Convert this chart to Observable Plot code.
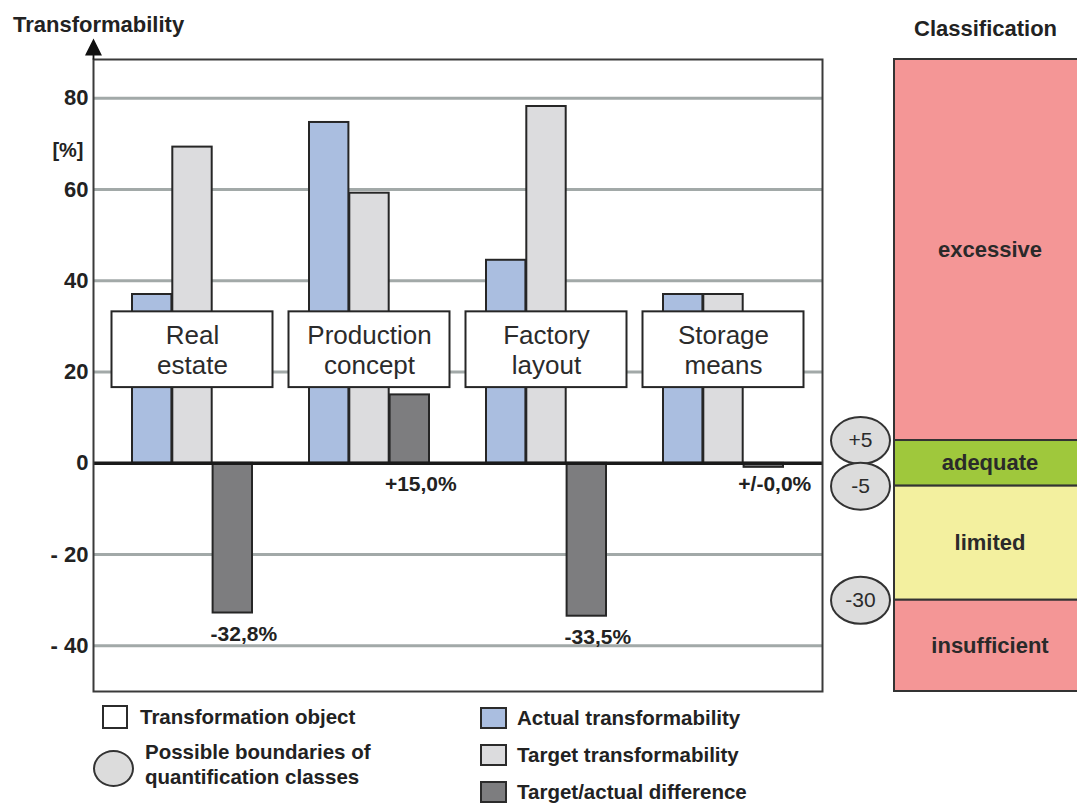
<!DOCTYPE html>
<html>
<head>
<meta charset="utf-8">
<script src="https://cdn.jsdelivr.net/npm/d3@7"></script>
<script src="https://cdn.jsdelivr.net/npm/@observablehq/plot@0.6"></script>
<style>
  body { margin: 0; background: #fff; font-family: "Liberation Sans", Arial, sans-serif; color: #222; }
  #chart { position: relative; width: 1077px; height: 803px; overflow: hidden; }
  #chart svg { position: absolute; top: 0; overflow: visible; }
  .lbl { position: absolute; font-weight: bold; white-space: nowrap; color: #222; }
  .sw { position: absolute; box-sizing: border-box; border: 2px solid #2b2b2b; }
</style>
</head>
<body>
<div id="chart"></div>
<script>
// Transformation objects and their transformability values [%]
const categories = ["Real estate", "Production concept", "Factory layout", "Storage means"];
const actual = [37.0, 74.7, 44.5, 37.0];
const target = [69.3, 59.2, 78.2, 37.0];
const difference = [-32.8, 15.0, -33.5, 0.0];

// Vertical axis
const yTicks = [80, 60, 40, 20, 0, -20, -40];
const yDomain = [-50, 88.5];

// Quantification classes and the boundaries between them
const classNames = ["excessive", "adequate", "limited", "insufficient"];
const classColors = ["#f49696", "#9fc83c", "#f3f09f", "#f49696"];
const classBounds = [5, -5, -30];
const boundaryLabels = ["+5", "-5", "-30"];

// Series legend
const seriesNames = ["Actual transformability", "Target transformability", "Target/actual difference"];
const seriesColors = ["#aabee0", "#dcdcde", "#7d7d7f"];

const rows = categories.map((category, i) => ({
  category, actual: actual[i], target: target[i], diff: difference[i]
}));

const classes = classNames.map((name, i) => ({
  name,
  upper: i === 0 ? yDomain[1] : classBounds[i - 1],
  lower: i === classNames.length - 1 ? yDomain[0] : classBounds[i],
  color: classColors[i]
}));

const pct = v => v === 0 ? "+/-0,0%"
  : (v > 0 ? "+" : "-") + Math.abs(v).toFixed(1).replace(".", ",") + "%";

const font = "'Liberation Sans', Arial, sans-serif";
const W = 830, H = 700, mL = 93, mR = 8, mT = 59, mB = 9;
const padIn = 0.32, padOut = 0.21;
const step = (W - mL - mR) / (categories.length - padIn + 2 * padOut);
const third = step * (1 - padIn) / 3;   // each group holds three bars

// Axis line end: short shaft with a filled arrow head
const axisArrow = {
  draw(ctx) {
    ctx.moveTo(0, 0);
    ctx.lineTo(0, -8);
    ctx.moveTo(-7, -5);
    ctx.lineTo(0, -19);
    ctx.lineTo(7, -5);
    ctx.closePath();
  }
};

// Boundary markers are drawn as flat ellipses
const ellipse = {
  draw(ctx, size) {
    const ry = Math.sqrt(size / Math.PI), rx = ry * 1.255, k = 0.5523;
    ctx.moveTo(rx, 0);
    ctx.bezierCurveTo(rx, k * ry, k * rx, ry, 0, ry);
    ctx.bezierCurveTo(-k * rx, ry, -rx, k * ry, -rx, 0);
    ctx.bezierCurveTo(-rx, -k * ry, -k * rx, -ry, 0, -ry);
    ctx.bezierCurveTo(k * rx, -ry, rx, -k * ry, rx, 0);
    ctx.closePath();
  }
};

const barStyle = {stroke: "#262626", strokeWidth: 2};

const main = Plot.plot({
  width: W, height: H,
  marginLeft: mL, marginRight: mR, marginTop: mT, marginBottom: mB,
  style: {fontFamily: font, fontSize: "22px", fontWeight: "bold", color: "#222", background: "transparent"},
  x: {type: "band", domain: categories, paddingInner: padIn, paddingOuter: padOut, axis: null},
  y: {domain: yDomain, ticks: yTicks, tickFormat: d => d < 0 ? "- " + (-d) : String(d),
      tickSize: 0, tickPadding: 5, label: null},
  marks: [
    Plot.ruleY(yTicks.filter(d => d !== 0), {stroke: "#a2a9a8", strokeWidth: 3}),
    Plot.barY(rows, {x: "category", y: "actual", fill: seriesColors[0], ...barStyle, insetRight: 2 * third}),
    Plot.barY(rows, {x: "category", y: "target", fill: seriesColors[1], ...barStyle, insetLeft: third, insetRight: third}),
    Plot.barY(rows, {filter: d => d.diff !== 0, x: "category", y: "diff", fill: seriesColors[2], ...barStyle, insetLeft: 2 * third}),
    Plot.barY(rows, {filter: d => d.diff === 0, x: "category", y: "diff", fill: seriesColors[2], ...barStyle, insetLeft: 2 * third, insetBottom: -4}),
    Plot.ruleY([0], {stroke: "#1a1a1a", strokeWidth: 3.5}),
    // transformation object boxes
    Plot.barY(categories, {x: d => d, y1: 16.6, y2: 33.2, fill: "white", stroke: "#262626", strokeWidth: 2,
                           insetLeft: -20.5, insetRight: -20.5}),
    Plot.text(categories, {x: d => d, y: 24.9, text: d => d.replace(" ", "\n"), fontSize: 26,
                           fontWeight: "normal", lineHeight: 1.15, fill: "#2b2b2b"}),
    // difference labels under each difference bar
    Plot.text(rows, {x: "category", y: d => Math.min(d.diff, 0), text: d => pct(d.diff),
                     dx: third + 11, dy: 21, fontSize: 21, fill: "#222"}),
    Plot.frame({stroke: "#3a3a3a", strokeWidth: 2}),
    Plot.dot([0], {frameAnchor: "top-left", symbol: axisArrow, r: 5, fill: "#111", stroke: "#111", strokeWidth: 1.8}),
    Plot.text(["[%]"], {frameAnchor: "left", y: 68.5, dx: -10, textAnchor: "end", fontSize: 20, fill: "#222"})
  ]
});

const classification = Plot.plot({
  width: 261, height: H,
  marginLeft: 70, marginRight: 0, marginTop: mT, marginBottom: mB,
  style: {fontFamily: font, fontSize: "22px", fontWeight: "bold", color: "#222", background: "transparent"},
  x: {domain: [0, 1], axis: null},
  y: {domain: yDomain, axis: null},
  color: {type: "identity"},
  marks: [
    Plot.rect(classes, {x1: 0, x2: 1, y1: "lower", y2: "upper", fill: d => d.color, stroke: "#333", strokeWidth: 2}),
    Plot.text(classes, {x: 0.5, y: d => (d.lower + d.upper) / 2, text: "name", fill: "#2a2a2a"}),
    Plot.dot(classBounds, {y: d => d, frameAnchor: "left", dx: -34, symbol: ellipse, r: 23.5,
                           fill: "#dcdcdc", stroke: "#333", strokeWidth: 2}),
    Plot.text(classBounds, {y: d => d, frameAnchor: "left", textAnchor: "middle", dx: -34,
                            text: (d, i) => boundaryLabels[i],
                            fontSize: 21, fontWeight: "normal", fill: "#2b2b2b"})
  ]
});

const chart = document.getElementById("chart");
main.style.left = "0px";
classification.style.left = "824px";
chart.append(main, classification);

function addText(text, left, top, size, extra = {}) {
  const el = document.createElement("div");
  el.className = "lbl";
  el.textContent = text;
  Object.assign(el.style, {left: left + "px", top: top + "px", fontSize: size + "px", lineHeight: size + "px"}, extra);
  chart.append(el);
  return el;
}
function addSwatch(left, top, w, h, fill, extra = {}) {
  const el = document.createElement("div");
  el.className = "sw";
  Object.assign(el.style, {left: left + "px", top: top + "px", width: w + "px", height: h + "px", background: fill}, extra);
  chart.append(el);
  return el;
}

// Titles
addText("Transformability", 13, 14, 22);
addText("Classification", 914, 18, 22);

// Legend: object box and boundary marker
addSwatch(102, 705, 26, 24, "#fff");
addText("Transformation object", 140, 706, 20.5, {lineHeight: "22px"});
addSwatch(93, 750, 41, 37, "#dcdcdc", {borderRadius: "50%", borderColor: "#333"});
addText("Possible boundaries of\nquantification classes", 145, 739, 20.5, {lineHeight: "25px", whiteSpace: "pre"});

// Legend: series
const swTops = [707, 743.5, 781];
seriesNames.forEach((name, i) => {
  addSwatch(480, swTops[i], 27, 22, seriesColors[i]);
  addText(name, 517, swTops[i], 20.5, {lineHeight: "22px"});
});
</script>
</body>
</html>
